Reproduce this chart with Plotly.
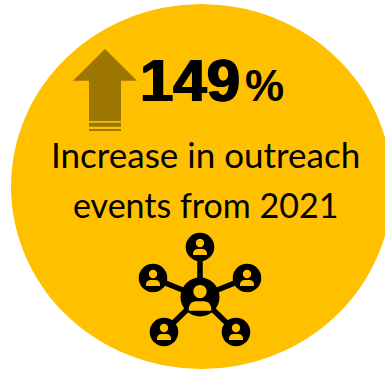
import plotly.graph_objects as go

# Content of the callout
headline_value = "149"
headline_unit = "%"
caption_lines = ["Increase in outreach", "events from 2021"]

GOLD = "#FFC000"
ARROW = "#9C7600"
BLACK = "#000000"

# Network icon: hub and satellites as (x, y)
hub = (200, 297)
satellites = [(200, 247), (153, 278), (247, 278), (164, 332), (236, 332)]

WIDTH, HEIGHT = 385, 370


def rect(x0, y0, x1, y1, color):
    return dict(type="rect", x0=x0, y0=y0, x1=x1, y1=y1,
                fillcolor=color, line_width=0, layer="above")


def disc(cx, cy, r, color):
    return dict(type="circle", x0=cx - r, y0=cy - r, x1=cx + r, y1=cy + r,
                fillcolor=color, line_width=0, layer="above")


def person(cx, cy, s):
    # Head and shoulders of one contact, scaled by s
    body = (f"M {cx - 7 * s} {cy + 8 * s} L {cx - 7 * s} {cy + 6 * s} "
            f"Q {cx - 6 * s} {cy + 2 * s} {cx - 2.5 * s} {cy + 2 * s} "
            f"L {cx + 2.5 * s} {cy + 2 * s} "
            f"Q {cx + 6 * s} {cy + 2 * s} {cx + 7 * s} {cy + 6 * s} "
            f"L {cx + 7 * s} {cy + 8 * s} Z")
    return [disc(cx, cy - 4 * s, 4.2 * s, GOLD),
            dict(type="path", path=body, fillcolor=GOLD, line_width=0, layer="above")]


shapes = [dict(type="circle", x0=11, y0=4, x1=392, y1=369,
               fillcolor=GOLD, line_width=0, layer="below")]

# Up arrow with two stripes at its foot
shapes.append(dict(type="path",
                   path="M 105 49 L 137 80.7 L 121 80.7 L 121 121 L 89 121 L 89 80.7 L 73 80.7 Z",
                   fillcolor=ARROW, line_width=0, layer="above"))
shapes.append(rect(89, 122.7, 121, 126.7, ARROW))
shapes.append(rect(89, 129, 121, 131, ARROW))

# Network icon
for sx, sy in satellites:
    shapes.append(dict(type="line", x0=hub[0], y0=hub[1], x1=sx, y1=sy,
                       line=dict(color=BLACK, width=5.5), layer="above"))
shapes.append(disc(hub[0], hub[1], 19.5, BLACK))
for sx, sy in satellites:
    shapes.append(disc(sx, sy, 14.3, BLACK))
shapes.extend(person(hub[0], hub[1] + 1, 1.6))
for sx, sy in satellites:
    shapes.extend(person(sx, sy, 1.0))

# A thin same-colour shadow thickens the headline strokes
heavy = "1px 0 0 #000, -1px 0 0 #000"

annotations = [
    dict(x=139, y=80, text=f"<b>{headline_value}</b>", xanchor="left", yanchor="middle",
         font=dict(family="Arial, 'Liberation Sans', sans-serif", size=60, color=BLACK, shadow=heavy)),
    dict(x=244, y=85, text=f"<b>{headline_unit}</b>", xanchor="left", yanchor="middle",
         font=dict(family="Arial, 'Liberation Sans', sans-serif", size=44, color=BLACK)),
    dict(x=205, y=154, text=caption_lines[0], xanchor="center", yanchor="middle",
         font=dict(family="Lato", size=35, color=BLACK)),
    dict(x=205.5, y=204, text=caption_lines[1], xanchor="center", yanchor="middle",
         font=dict(family="Lato", size=34, color=BLACK)),
]
for a in annotations:
    a.update(showarrow=False, xref="x", yref="y", borderpad=0)

fig = go.Figure()
fig.update_layout(
    width=WIDTH, height=HEIGHT, margin=dict(l=0, r=0, t=0, b=0),
    paper_bgcolor="white", plot_bgcolor="white", showlegend=False,
    xaxis=dict(range=[0, WIDTH], visible=False, fixedrange=True),
    yaxis=dict(range=[HEIGHT, 0], visible=False, fixedrange=True),
    shapes=shapes, annotations=annotations,
)
fig.write_html("out.html", config=dict(displayModeBar=False))
